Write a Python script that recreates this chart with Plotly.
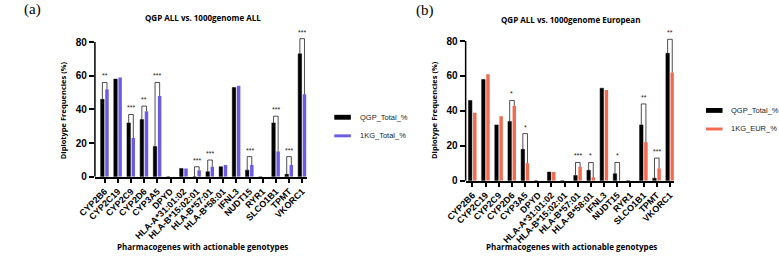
import plotly.graph_objects as go

categories = ["CYP2B6", "CYP2C19", "CYP2C9", "CYP2D6", "CYP3A5", "DPYD",
              "HLA-A*31:01:02", "HLA-B*15:02:01", "HLA-B*57:01", "HLA-B*58:01",
              "IFNL3", "NUDT15", "RYR1", "SLCO1B1", "TPMT", "VKORC1"]
qgp_total = [46, 58, 32, 34, 18, 0, 5, 0, 3, 6, 53, 4, 0, 32, 1.5, 73]
kg_total = [52, 59, 23, 39, 48, 0, 5, 4, 6, 7, 54, 7, 0, 15, 7, 49]
kg_eur = [39, 61, 37, 43, 10, 0, 5, 0, 8, 2, 52, 0, 0, 22, 7, 62]

left_sig_cats = ["CYP2B6", "CYP2C9", "CYP2D6", "CYP3A5", "HLA-B*15:02:01",
                 "HLA-B*57:01", "NUDT15", "SLCO1B1", "TPMT", "VKORC1"]
left_sig_top = [56, 37, 42, 56, 6, 10, 12, 36, 12, 82]
left_sig_stars = ["**", "***", "**", "***", "***", "***", "***", "***", "***", "***"]

right_sig_cats = ["CYP2D6", "CYP3A5", "HLA-B*57:01", "HLA-B*58:01", "NUDT15",
                  "SLCO1B1", "TPMT", "VKORC1"]
right_sig_top = [46, 27, 10.5, 10.5, 10.5, 44, 13, 81]
right_sig_stars = ["*", "*", "***", "*", "*", "**", "***", "**"]

y_ticks = [0, 20, 40, 60, 80]
titles = ["QGP ALL vs. 1000genome ALL", "QGP ALL vs. 1000genome European"]
series_names = [["QGP_Total_%", "1KG_Total_%"], ["QGP_Total_%", "1KG_EUR_%"]]
panel_labels = ["(a)", "(b)"]

BLACK = "#000000"
BLUE = "#6a5ce6"
ORANGE = "#f26a4f"

W, H = 779, 263
def px(x):
    return x / W
def py(y):
    return 1 - y / H

fig = go.Figure()

panels = [
    dict(xa="x", ya="y", second=kg_total, color=BLUE, sig=(left_sig_cats, left_sig_top, left_sig_stars),
         xdom=[77, 295], y0=181, y80=43, xr=[-0.74, 15.37], title_xy=(188, 18), lab_xy=(13, 10),
         ytitle_x=45, legend_x=323, legend_y=(120, 139), ytitle_y=113),
    dict(xa="x2", ya="y2", second=kg_eur, color=ORANGE, sig=(right_sig_cats, right_sig_top, right_sig_stars),
         xdom=[458, 672], y0=185, y80=42, xr=[-0.52, 15.3], title_xy=(566, 20), lab_xy=(416, 11),
         ytitle_x=426, legend_x=705, legend_y=(113, 132), ytitle_y=113),
]

bargap = 0.3
off = (1 - bargap) / 4.0

for pi, p in enumerate(panels):
    fig.add_trace(go.Bar(x=categories, y=qgp_total, name=series_names[pi][0],
                         marker=dict(color=BLACK, line=dict(color=BLACK, width=0.5)),
                         xaxis=p["xa"], yaxis=p["ya"], showlegend=False))
    fig.add_trace(go.Bar(x=categories, y=p["second"], name=series_names[pi][1],
                         marker=dict(color=p["color"], line=dict(width=0)),
                         xaxis=p["xa"], yaxis=p["ya"], showlegend=False))

    ymax = 80 + (p["y80"] - 22) / ((p["y0"] - p["y80"]) / 80.0)
    ydom = [py(p["y0"]), py(p["y0"] - (p["y0"] - p["y80"]) / 80.0 * ymax)]
    xkey = "xaxis" if pi == 0 else "xaxis2"
    ykey = "yaxis" if pi == 0 else "yaxis2"
    fig.layout[xkey] = dict(domain=[px(p["xdom"][0]), px(p["xdom"][1])], range=p["xr"],
                            anchor=p["ya"], type="category", categoryorder="array",
                            categoryarray=categories,
                            showline=True, linecolor="black", linewidth=1.5,
                            ticks="outside", ticklen=4, tickwidth=1.5, tickcolor="black",
                            tickangle=-45, showgrid=False, zeroline=False,
                            tickfont=dict(family="Liberation Sans", size=9, color="black", weight="bold"))
    fig.layout[ykey] = dict(domain=ydom, range=[0, ymax], anchor=p["xa"],
                            showline=False, tickvals=y_ticks, ticks="outside", ticklen=5,
                            tickwidth=1.5, tickcolor="black", showgrid=False, zeroline=False,
                            tickfont=dict(family="Liberation Sans", size=10, color="black", weight="bold"))
    fig.add_shape(type="line", xref=p["xa"] + " domain", yref=p["ya"], x0=0, x1=0, y0=0, y1=80,
                  line=dict(color="black", width=1.5))

    cats, tops, stars = p["sig"]
    for c, t, s in zip(cats, tops, stars):
        i = categories.index(c)
        a = qgp_total[i]
        b = p["second"][i]
        xl, xr_ = i - off, i + off
        fig.add_shape(type="path", xref=p["xa"], yref=p["ya"],
                      path=f"M {xl} {a} L {xl} {t} L {xr_} {t} L {xr_} {b}",
                      line=dict(color="#222222", width=0.8))
        fig.add_annotation(x=i, y=t, xref=p["xa"], yref=p["ya"], text=s, showarrow=False,
                           yanchor="bottom", yshift=1,
                           font=dict(family="Liberation Sans", size=7, color="#222222"))

    fig.add_annotation(x=px(p["title_xy"][0]), y=py(p["title_xy"][1]), xref="paper", yref="paper",
                       text=titles[pi], showarrow=False, xanchor="center", yanchor="middle",
                       font=dict(family="Open Sans", size=8, color="black", weight="bold"))
    fig.add_annotation(x=px(p["lab_xy"][0]), y=py(p["lab_xy"][1]), xref="paper", yref="paper",
                       text=panel_labels[pi], showarrow=False, xanchor="center", yanchor="middle",
                       font=dict(family="Liberation Serif", size=15, color="black"))
    fig.add_annotation(x=px(p["ytitle_x"]), y=py(p["ytitle_y"]), xref="paper", yref="paper",
                       text="Diplotype Frequencies (%)", showarrow=False, textangle=-90,
                       xanchor="center", yanchor="middle",
                       font=dict(family="Open Sans", size=7.5, color="black", weight="bold"))
    fig.add_annotation(x=px((p["xdom"][0] + p["xdom"][1]) / 2 + 2), y=py(252), xref="paper", yref="paper",
                       text="Pharmacogenes with actionable genotypes", showarrow=False,
                       xanchor="center", yanchor="middle",
                       font=dict(family="Open Sans", size=8, color="black", weight="bold"))
    lx = p["legend_x"]
    for k, (col, hgt) in enumerate([(BLACK, 5), (p["color"], 3)]):
        yy = p["legend_y"][k]
        fig.add_shape(type="rect", xref="paper", yref="paper",
                      x0=px(lx), x1=px(lx + 17), y0=py(yy + hgt / 2), y1=py(yy - hgt / 2),
                      fillcolor=col, line=dict(width=0))
        fig.add_annotation(x=px(lx + 24), y=py(yy), xref="paper", yref="paper",
                           text=series_names[pi][k], showarrow=False, xanchor="left", yanchor="middle",
                           font=dict(family="Liberation Sans", size=7.5, color="#222222"))

fig.update_layout(width=W, height=H, margin=dict(l=0, r=0, t=0, b=0),
                  paper_bgcolor="white", plot_bgcolor="white",
                  barmode="group", bargap=bargap, bargroupgap=0.25, showlegend=False)

fig.write_html("out.html", config={"displayModeBar": False},
               post_script="document.body.style.margin='0';document.body.style.overflow='hidden';"
                           "document.documentElement.style.overflow='hidden';")
